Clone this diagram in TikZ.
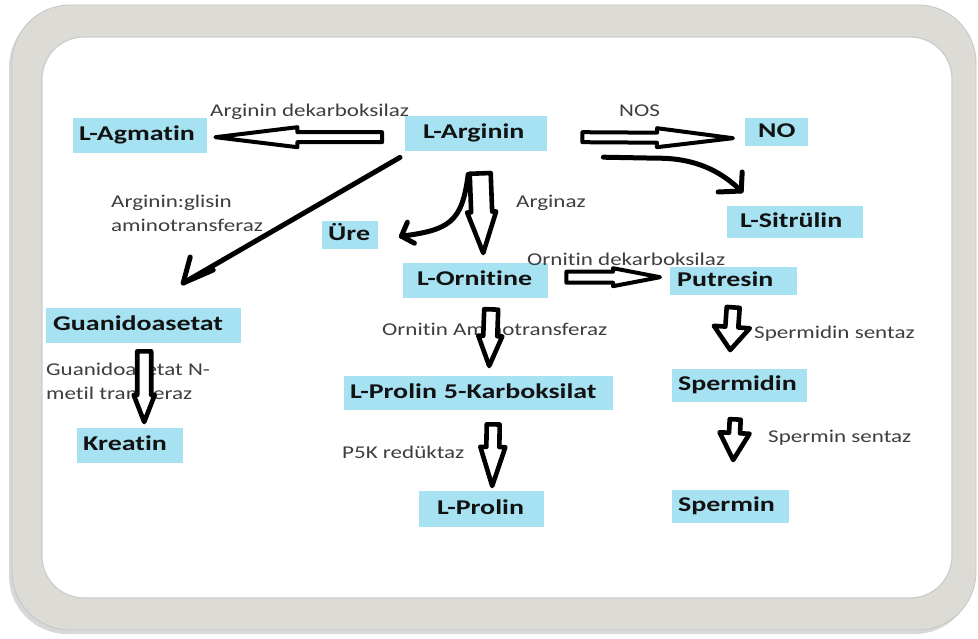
\documentclass[tikz,border=0pt]{standalone}
\usepackage{fontspec}
\setmainfont{Carlito}[FakeStretch=1.28, Ligatures=NoCommon]
\newfontfamily\boxfont{Carlito}[FakeStretch=1.33, Ligatures=NoCommon]
\usetikzlibrary{calc,shadows}
\definecolor{boxblue}{RGB}{166,226,242}
\definecolor{frameg}{RGB}{221,219,213}
\definecolor{labelg}{RGB}{62,62,62}
\definecolor{boxtxt}{RGB}{18,18,18}

% hollow block arrow: [line width]{tail}{tip}{shaft half}{head half}{head length}
\newcommand\hollowarrow[6][4]{%
  \pgfmathanglebetweenpoints{\pgfpointanchor{#2}{center}}{\pgfpointanchor{#3}{center}}%
  \let\haang\pgfmathresult
  \pgfpointdiff{\pgfpointanchor{#2}{center}}{\pgfpointanchor{#3}{center}}%
  \pgfgetlastxy{\hadx}{\hady}%
  \pgfmathsetmacro\halen{veclen(\hadx,\hady)}%
  \begin{scope}[shift={(#2)}, rotate=\haang, x=1pt, y=1pt]
    \draw[blockarr, line width=#1pt] (0,#4) -- ({\halen-#6},#4) -- ({\halen-#6},#5)
      -- (\halen,0) -- ({\halen-#6},-#5) -- ({\halen-#6},-#4) -- (0,-#4) -- cycle;
  \end{scope}}

% coloured box: name, x0, y0, x1, y1, text offset, text
\newcommand\cbox[7]{%
  \pgfmathsetmacro\cbw{#4-#2}\pgfmathsetmacro\cbh{#5-#3}%
  \node[molbox, text width=\cbw pt, minimum height=\cbh pt] (#1) at (#2,#3) {\hspace*{#6pt}\mbox{#7}};}

\begin{document}
\begin{tikzpicture}[x=1pt, y=-1pt,
  molbox/.style={fill=boxblue, inner sep=0pt, anchor=north west, align=left,
    text height=14pt, text depth=4pt, text=boxtxt,
    font=\fontsize{21}{24}\boxfont\bfseries},
  lbl/.style={inner sep=0pt, text=labelg, align=left, anchor=base west,
    font=\fontsize{18}{24}\selectfont},
  blockarr/.style={draw=black, fill=white, line join=round, line cap=round},
  thickline/.style={draw=black, line width=5pt, line cap=round, line join=round}]

\useasboundingbox (0,0) rectangle (978,639);
\fill[white] (0,0) rectangle (978,639);

% frame
\filldraw[fill=frameg, draw=gray!45, line width=0.8pt, rounded corners=58pt,
  drop shadow={shadow xshift=-3pt, shadow yshift=-4pt, opacity=0.3, fill=black!50}]
  (12,5) rectangle (976,630);
\filldraw[fill=white, draw=gray!40, line width=1.2pt, rounded corners=42pt]
  (42,37) rectangle (952,598);

% boxes
\cbox{ag}{73}{118}{207}{153}{6}{L-Agmatin}
\cbox{arg}{405}{116}{547}{151}{18}{L-Arginin}
\cbox{no}{745}{118}{808}{146}{13}{NO}
\cbox{sit}{727}{206}{863}{238}{13}{L-Sitrülin}
\cbox{ure}{322}{221}{378}{249}{6}{Üre}
\cbox{orn}{403}{263}{548}{298}{14}{L-Ornitine}
\cbox{put}{670}{267}{797}{295}{7}{Putresin}
\cbox{gua}{46}{308}{241}{343}{7}{Guanidoasetat}
\cbox{kre}{77}{428}{183}{463}{6}{Kreatin}
\cbox{p5c}{344}{376}{613}{410}{6}{L-Prolin 5-Karboksilat}
\cbox{pro}{419}{491}{544}{527}{18}{L-Prolin}
\cbox{spd}{672}{369}{807}{402}{6}{Spermidin}
\cbox{spm}{672}{490}{789}{523}{6}{Spermin}

% labels
\node[lbl] (l1) at (210,117) {Arginin dekarboksilaz};
\node[lbl] (l2) at (619,117) {NOS};
\node[lbl] (l3) at (111,232) {Arginin:glisin\\aminotransferaz};
\node[lbl] (l4) at (516,208) {Arginaz};
\node[lbl] (l5) at (527,266) {Ornitin dekarboksilaz};
\node[lbl] (l6) at (382,336) {Ornitin Aminotransferaz};
\node[lbl] (l7) at (46,399) {Guanidoasetat N-\\metil transferaz};
\node[lbl] (l8) at (342,458) {P5K redüktaz};
\node[lbl] (l9) at (754,338) {Spermidin sentaz};
\node[lbl] (l10) at (768,442) {Spermin sentaz};

% arrow end points
\coordinate (agT) at ($(arg.west)+(-23,3.5)$);
\coordinate (agH) at ($(ag.east)+(8,1.5)$);
\coordinate (noT) at ($(arg.east)+(35,3.5)$);
\coordinate (noH) at ($(no.west)+(-12,6)$);
\coordinate (ptT) at ($(orn.east)+(18,-3.5)$);
\coordinate (ptH) at ($(put.west)+(-10,-4)$);
\coordinate (onT) at ($(arg.south)+(4,22)$);
\coordinate (onH) at ($(orn.north)+(7.5,-10)$);
\coordinate (p5T) at ($(orn.south)+(15.5,11)$);
\coordinate (p5H) at ($(p5c.north)+(10.5,-10)$);
\coordinate (prT) at ($(p5c.south)+(14.5,14)$);
\coordinate (prH) at ($(pro.north)+(10.5,-5)$);
\coordinate (krT) at ($(gua.south)+(0.5,8)$);
\coordinate (krH) at ($(kre.north)+(14,-6)$);
\coordinate (sdT) at ($(put.south)+(-0.5,12)$);
\coordinate (sdH) at ($(spd.north)+(-9.5,-19)$);
\coordinate (smT) at ($(spd.south)+(-4.5,17)$);
\coordinate (smH) at ($(spm.north)+(2.5,-30)$);
\coordinate (dgS) at ($(arg.south west)+(-5,6)$);
\coordinate (dgE) at ($(gua.north)+(39.5,-25)$);
\coordinate (stS) at ($(arg.east)+(56,23.5)$);
\coordinate (stE) at ($(sit.north)+(-54,-15)$);
\coordinate (urS) at ($(arg.south)+(-8,23)$);
\coordinate (urE) at ($(ure.east)+(23,1)$);

% hollow block arrows
\hollowarrow{agT}{agH}{5}{10}{82}
\hollowarrow{noT}{noH}{5}{9.5}{76}
\hollowarrow{ptT}{ptH}{5.5}{9}{47}
\hollowarrow[4.6]{onT}{onH}{10.5}{14.5}{41}
\hollowarrow[4.6]{p5T}{p5H}{7}{12}{30}
\hollowarrow[4.6]{prT}{prH}{6.5}{12.5}{39}
\hollowarrow[4.6]{krT}{krH}{7}{10.5}{27}
\hollowarrow[4.6]{sdT}{sdH}{6.5}{18}{23}
\hollowarrow[4.6]{smT}{smH}{5.5}{15}{27}

% line arrows
\draw[thickline] (dgS) -- (dgE);
\draw[thickline] ($(dgE)+(7,-26)$) -- (dgE) -- ($(dgE)+(30,-13)$);
\draw[thickline] (stS) -- ++(54,1) .. controls (700,158) and (725,175) .. (stE);
\draw[thickline] ($(stE)+(-23,1)$) -- (stE) -- ($(stE)+(1,-19)$);
\draw[thickline] (urS) .. controls (462,222) and (450,230) .. (urE);
\draw[thickline] ($(urE)+(6,-14)$) -- (urE) -- ($(urE)+(13,7)$);
\end{tikzpicture}
\end{document}
